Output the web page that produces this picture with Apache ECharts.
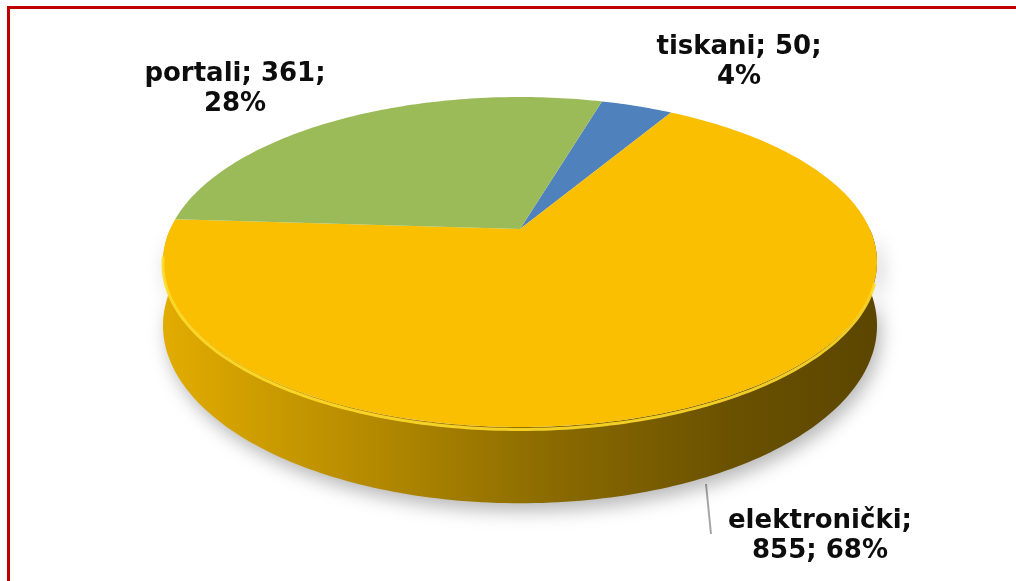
<!DOCTYPE html>
<html>
<head>
<meta charset="utf-8">
<script src="https://cdn.jsdelivr.net/npm/echarts@6/dist/echarts.min.js"></script>
<style>
    html, body { margin: 0; padding: 0; background: #fff; }
    #chart { width: 1016px; height: 581px; }
</style>
</head>
<body>
<div id="chart"></div>
<script>
// podaci
var names = ['tiskani', 'elektronički', 'portali'];
var values = [50, 855, 361];

var colors = ['#4F81BD', '#FABF00', '#9BBB59'];
var labelPos = [[739, 62], [820, 536], [235, 89]];

// 3D pie geometrija (perspektiva)
var CX = 520, CY = 229, RX = 349.8, RY = 158.4, K = 0.2, H = 61;
var START = 16.2 * Math.PI / 180;

var total = values.reduce(function (a, b) { return a + b; }, 0);
var startAngles = [];
var acc = START;
for (var i = 0; i < values.length; i++) {
    startAngles.push(acc);
    acc += values[i] / total * Math.PI * 2;
}

// postoci zaokruženi tako da zbroj bude 100
var raw = values.map(function (v) { return v / total * 100; });
var pcts = raw.map(Math.floor);
var left = 100 - pcts.reduce(function (a, b) { return a + b; }, 0);
raw.map(function (r, i) { return i; })
    .sort(function (a, b) { return (raw[b] - pcts[b]) - (raw[a] - pcts[a]); })
    .slice(0, left)
    .forEach(function (i) { pcts[i]++; });

function proj(theta, drop) {
    var u = Math.sin(theta), v = -Math.cos(theta);
    var s = 1 / (1 - K * v);
    return [CX + RX * u * s, CY + (RY * v + drop) * s];
}

function arc(a0, a1, drop) {
    var pts = [];
    var n = Math.max(2, Math.ceil(Math.abs(a1 - a0) / (Math.PI / 180)));
    for (var j = 0; j <= n; j++) {
        pts.push(proj(a0 + (a1 - a0) * j / n, drop));
    }
    return pts;
}

var wallFill = {
    type: 'linear', x: 162, y: 0, x2: 877, y2: 0, global: true,
    colorStops: [
        { offset: 0, color: '#E2AC00' },
        { offset: 0.3, color: '#B38900' },
        { offset: 0.55, color: '#8A6A00' },
        { offset: 0.8, color: '#6A5100' },
        { offset: 1, color: '#5C4600' }
    ]
};

function renderItem(params, api) {
    var idx = params.dataIndex;
    var a0 = startAngles[idx];
    var a1 = a0 + api.value(0) / total * Math.PI * 2;
    var children = [];

    // bočni zid (samo prednja strana)
    var visStart = Math.PI * 0.5, visEnd = Math.PI * 1.5;
    var w0 = Math.max(a0, visStart), w1 = Math.min(a1, visEnd);
    if (w1 > w0) {
        var top = arc(w0, w1, 0);
        var bottom = arc(w0, w1, H).reverse();
        children.push({
            type: 'polygon',
            z2: 1,
            shape: { points: top.concat(bottom) },
            style: {
                fill: wallFill,
                shadowBlur: 18,
                shadowColor: 'rgba(0,0,0,0.28)',
                shadowOffsetY: 8,
                shadowOffsetX: 4
            }
        });
        children.push({
            type: 'polyline',
            z2: 12,
            shape: { points: arc(Math.max(w0, Math.PI * 0.6), Math.min(w1, Math.PI * 1.45), 2) },
            style: { stroke: '#FFDA2A', lineWidth: 3, fill: null, opacity: 0.9 }
        });
    }

    // gornja ploha
    var face = [[CX, CY]].concat(arc(a0, a1, 0));
    children.push({
        type: 'polygon',
        z2: 10,
        shape: { points: face },
        style: { fill: colors[idx] }
    });

    // oznaka
    var nm = names[idx];
    var txt = nm.length > 8
        ? nm + ';\n' + api.value(0) + '; ' + pcts[idx] + '%'
        : nm + '; ' + api.value(0) + ';\n' + pcts[idx] + '%';
    children.push({
        type: 'text',
        z2: 20,
        x: labelPos[idx][0],
        y: labelPos[idx][1],
        style: {
            text: txt,
            fill: '#0D0D0D',
            font: 'bold 26px "DejaVu Sans"',
            lineHeight: 30,
            align: 'center',
            verticalAlign: 'middle'
        }
    });

    return { type: 'group', children: children };
}

var chart = echarts.init(document.getElementById('chart'));
chart.setOption({
    backgroundColor: '#ffffff',
    animation: false,
    graphic: [
        { type: 'rect', shape: { x: 7, y: 6, width: 1009, height: 3 }, style: { fill: '#C00000' } },
        { type: 'rect', shape: { x: 7, y: 6, width: 3, height: 575 }, style: { fill: '#C00000' } },
        { type: 'line', shape: { x1: 706, y1: 484, x2: 711, y2: 534 }, style: { stroke: '#A6A6A6', lineWidth: 2 } }
    ],
    series: [{
        type: 'custom',
        coordinateSystem: 'none',
        renderItem: renderItem,
        data: values.map(function (v, i) { return { name: names[i], value: [v] }; })
    }]
});
</script>
</body>
</html>
